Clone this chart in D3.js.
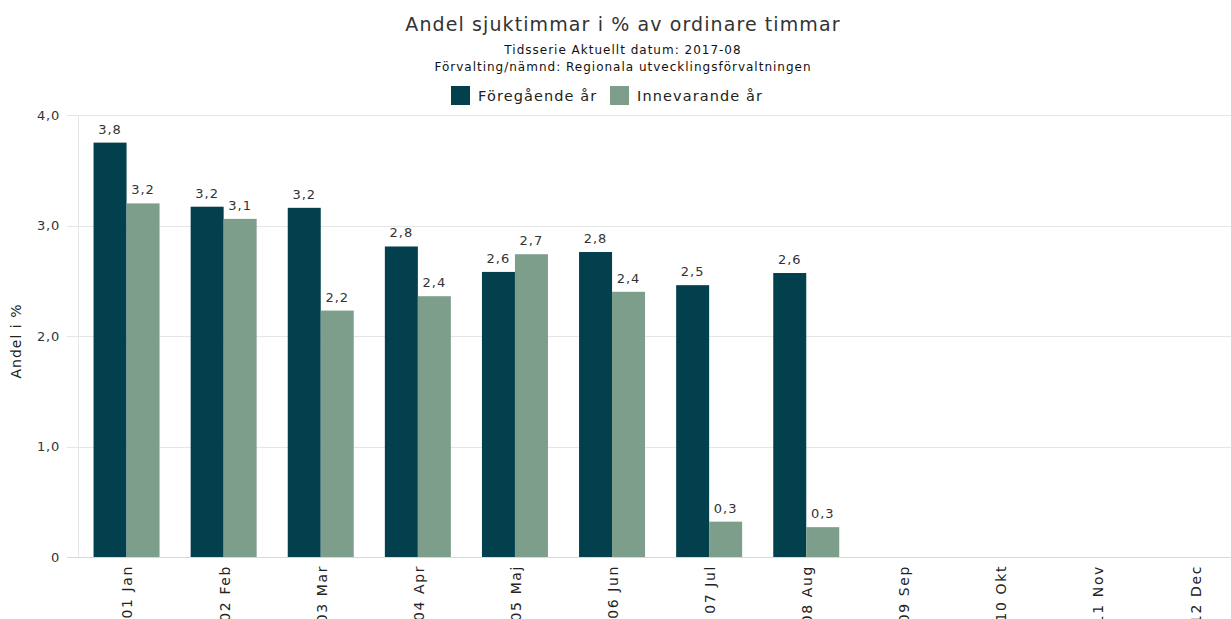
<!DOCTYPE html>
<html>
<head>
<meta charset="utf-8">
<script src="https://cdn.jsdelivr.net/npm/d3@7"></script>
<style>
  html, body { margin: 0; padding: 0; background: #fff; }
  svg { display: block; font-family: "DejaVu Sans", Verdana, sans-serif; }
</style>
</head>
<body>
<svg id="chart" width="1231" height="619"></svg>
<script>
// Monthly sick-leave share (%) – previous year vs current year
const months = ["01 Jan", "02 Feb", "03 Mar", "04 Apr", "05 Maj", "06 Jun",
                "07 Jul", "08 Aug", "09 Sep", "10 Okt", "11 Nov", "12 Dec"];
const previousYear = [3.75, 3.17, 3.16, 2.81, 2.58, 2.76, 2.46, 2.57];
const currentYear  = [3.20, 3.06, 2.23, 2.36, 2.74, 2.40, 0.32, 0.27];
const seriesNames  = ["Föregående år", "Innevarande år"];
const seriesColors = ["#01404c", "#7c9e8a"];
const yTicks = [0, 1, 2, 3, 4];

const svg = d3.select("#chart");
const plot = { left: 78, top: 115, bottom: 557, step: 97.1 };

const x = d3.scaleBand()
  .domain(months)
  .range([plot.left, plot.left + plot.step * months.length])
  .padding(0);

const y = d3.scaleLinear().domain([0, 4]).range([plot.bottom, plot.top]);

const fmt = v => v === 0 ? "0" : d3.format(".1f")(v).replace(".", ",");

// Title block
svg.append("text").attr("x", 623).attr("y", 31).attr("text-anchor", "middle")
  .attr("font-size", 19).attr("letter-spacing", 1.1).attr("fill", "#333")
  .text("Andel sjuktimmar i % av ordinare timmar");
svg.append("text").attr("x", 623).attr("y", 54).attr("text-anchor", "middle")
  .attr("font-size", 12).attr("letter-spacing", 1).attr("fill", "#111")
  .text("Tidsserie Aktuellt datum: 2017-08");
svg.append("text").attr("x", 623).attr("y", 71).attr("text-anchor", "middle")
  .attr("font-size", 12).attr("letter-spacing", 1).attr("fill", "#111")
  .text("Förvalting/nämnd: Regionala utvecklingsförvaltningen");

// Legend
const legend = svg.append("g");
const legendX = [451, 610];
seriesNames.forEach((name, i) => {
  legend.append("rect").attr("x", legendX[i]).attr("y", 86).attr("width", 19).attr("height", 19)
    .attr("fill", seriesColors[i]);
  legend.append("text").attr("x", legendX[i] + 27).attr("y", 101)
    .attr("font-size", 14.5).attr("letter-spacing", 1.1).attr("fill", "#222").text(name);
});

// Gridlines and y axis
const yAxis = svg.append("g");
yAxis.selectAll("line.grid").data(yTicks).join("line")
  .attr("class", "grid")
  .attr("x1", 67).attr("x2", 1231)
  .attr("y1", d => Math.round(y(d)) + 0.5).attr("y2", d => Math.round(y(d)) + 0.5)
  .attr("stroke", d => d === 0 ? "#d8d8d8" : "#e6e6e6").attr("stroke-width", 1);
yAxis.append("line")
  .attr("x1", plot.left + 0.5).attr("x2", plot.left + 0.5)
  .attr("y1", plot.top).attr("y2", plot.bottom)
  .attr("stroke", "#e6e6e6");
yAxis.selectAll("text").data(yTicks).join("text")
  .attr("x", 60).attr("y", d => y(d)).attr("dy", "0.35em")
  .attr("text-anchor", "end").attr("font-size", 13).attr("letter-spacing", 0.8).attr("fill", "#333")
  .text(fmt);

svg.append("text")
  .attr("transform", `translate(21,341) rotate(-90)`)
  .attr("text-anchor", "middle").attr("font-size", 14).attr("letter-spacing", 1).attr("fill", "#222")
  .text("Andel i %");

// Bars
const barW = 33;
const series = [previousYear, currentYear];
series.forEach((vals, si) => {
  const g = svg.append("g");
  const data = vals.map((v, i) => ({ month: months[i], v }));
  g.selectAll("rect").data(data).join("rect")
    .attr("x", d => x(d.month) + x.bandwidth() / 2 - barW + si * barW)
    .attr("y", d => y(d.v))
    .attr("width", barW)
    .attr("height", d => y(0) - y(d.v))
    .attr("fill", seriesColors[si]);
  g.selectAll("text").data(data).join("text")
    .attr("x", d => x(d.month) + x.bandwidth() / 2 - barW / 2 + si * barW)
    .attr("y", d => y(d.v) - 9)
    .attr("text-anchor", "middle").attr("font-size", 13).attr("letter-spacing", 1).attr("fill", "#333")
    .text(d => fmt(d.v));
});

// Month labels, rotated
svg.append("g").selectAll("text").data(months).join("text")
  .attr("transform", d => `translate(${x(d) + x.bandwidth() / 2 + 1},565) rotate(-90)`)
  .attr("dy", "0.35em")
  .attr("text-anchor", "end").attr("font-size", 14).attr("letter-spacing", 1.6).attr("fill", "#222")
  .text(d => d);
</script>
</body>
</html>
